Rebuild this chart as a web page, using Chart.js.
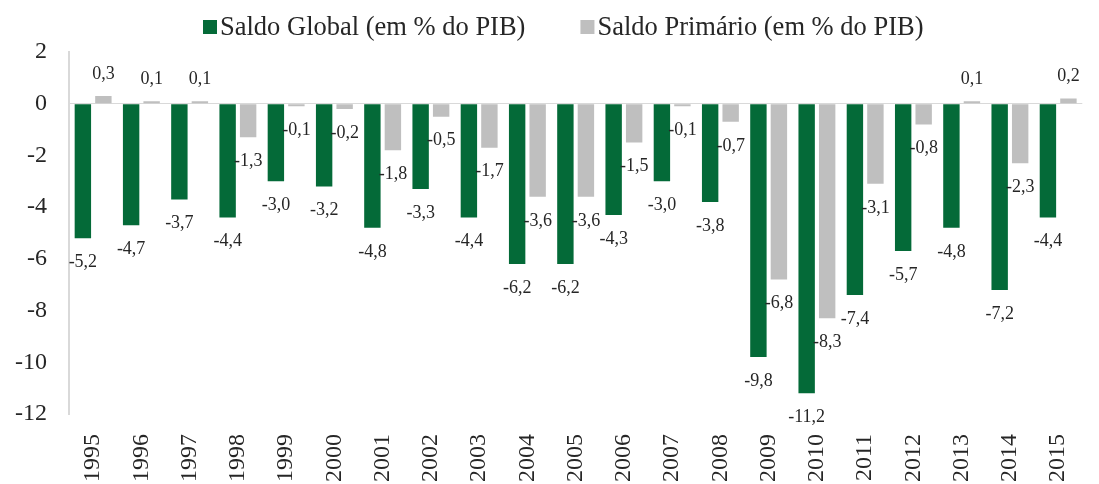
<!DOCTYPE html>
<html>
<head>
<meta charset="utf-8">
<script src="https://cdn.jsdelivr.net/npm/chart.js@4"></script>
<style>
  html, body { margin: 0; padding: 0; background: #fff; }
  #wrap { width: 1099px; height: 484px; }
</style>
</head>
<body>
<div id="wrap"><canvas id="myChart"></canvas></div>
<script>
const years = ['1995', '1996', '1997', '1998', '1999', '2000', '2001', '2002', '2003', '2004', '2005',
    '2006', '2007', '2008', '2009', '2010', '2011', '2012', '2013', '2014', '2015'];
const saldoGlobal = [-5.2, -4.7, -3.7, -4.4, -3.0, -3.2, -4.8, -3.3, -4.4, -6.2, -6.2,
    -4.3, -3.0, -3.8, -9.8, -11.2, -7.4, -5.7, -4.8, -7.2, -4.4];
const saldoPrimario = [0.3, 0.1, 0.1, -1.3, -0.1, -0.2, -1.8, -0.5, -1.7, -3.6, -3.6,
    -1.5, -0.1, -0.7, -6.8, -8.3, -3.1, -0.8, 0.1, -2.3, 0.2];
const yTicks = [2, 0, -2, -4, -6, -8, -10, -12];

const serif = '"Liberation Serif", "Times New Roman", serif';
const textColor = '#262626';

// value labels at the end of each bar, comma decimals
const barLabels = {
    id: 'barLabels',
    afterDatasetsDraw(chart) {
        const ctx = chart.ctx;
        ctx.save();
        ctx.font = '18px ' + serif;
        ctx.fillStyle = textColor;
        ctx.textAlign = 'center';
        ctx.textBaseline = 'middle';
        chart.data.datasets.forEach((ds, i) => {
            const meta = chart.getDatasetMeta(i);
            meta.data.forEach((bar, j) => {
                const v = ds.data[j];
                const txt = v.toFixed(1).replace('.', ',');
                const y = v >= 0 ? bar.y - 22 : bar.y + 24;
                ctx.fillText(txt, bar.x, y);
            });
        });
        ctx.restore();
    }
};

// legend drawn by hand so the box/text spacing matches the original
const topLegend = {
    id: 'topLegend',
    afterDraw(chart) {
        const ctx = chart.ctx;
        ctx.save();
        ctx.font = '26.5px ' + serif;
        ctx.textBaseline = 'middle';
        ctx.textAlign = 'left';
        let x = 203;
        const yMid = 27;
        chart.data.datasets.forEach((ds) => {
            ctx.fillStyle = ds.backgroundColor;
            ctx.fillRect(x, yMid - 7, 14, 14);
            ctx.fillStyle = textColor;
            ctx.fillText(ds.label, x + 17, yMid + 1);
            x += 17 + ctx.measureText(ds.label).width + 55;
        });
        ctx.restore();
    }
};

var ctx = document.getElementById('myChart').getContext('2d');

var myChart = new Chart(ctx, { //eslint-disable-line
    type: 'bar',
    data: {
        labels: years,
        datasets: [
            {
                label: 'Saldo Global (em % do PIB)',
                data: saldoGlobal,
                backgroundColor: '#046A38'
            },
            {
                label: 'Saldo Primário (em % do PIB)',
                data: saldoPrimario,
                backgroundColor: '#BFBFBF'
            }
        ]
    },
    plugins: [barLabels, topLegend],
    options: {
        responsive: true,
        maintainAspectRatio: false,
        animation: false,
        layout: {
            padding: { left: 0, right: 1, top: 52, bottom: 0 }
        },
        datasets: {
            bar: {
                barPercentage: 0.8,
                categoryPercentage: 0.85
            }
        },
        plugins: {
            legend: { display: false },
            tooltip: { enabled: false }
        },
        scales: {
            x: {
                grid: { display: false },
                border: { display: false },
                afterFit: (axis) => { axis.height = 70; },
                ticks: {
                    font: { family: serif, size: 24 },
                    color: textColor,
                    minRotation: 90,
                    maxRotation: 90,
                    autoSkip: false,
                    padding: 12
                }
            },
            y: {
                min: -12,
                max: 2,
                afterFit: (axis) => { axis.width = 69; },
                afterBuildTicks: (axis) => {
                    axis.ticks = yTicks.map(v => ({ value: v }));
                },
                grid: {
                    drawTicks: false,
                    color: (c) => c.tick && c.tick.value === 0 ? '#D9D9D9' : 'rgba(0,0,0,0)'
                },
                border: { display: true, color: '#D9D9D9', width: 2 },
                ticks: {
                    font: { family: serif, size: 24 },
                    color: textColor,
                    padding: 22,
                    callback: (v) => String(v)
                }
            }
        }
    }
});
</script>
</body>
</html>
